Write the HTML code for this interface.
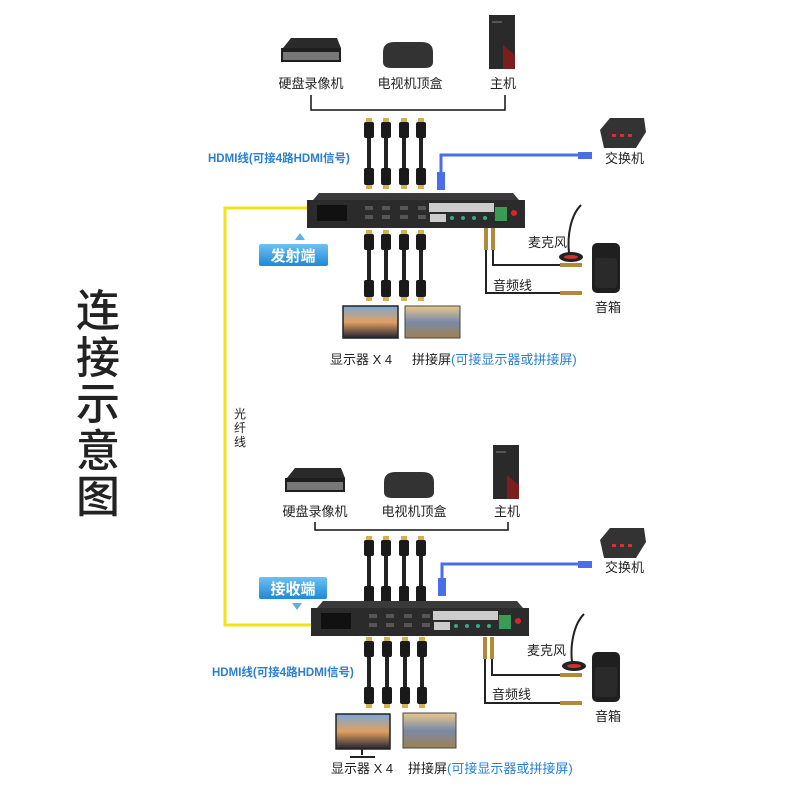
<!DOCTYPE html>
<html><head><meta charset="utf-8"><style>
html,body{margin:0;padding:0;background:#fff}
svg text{font-family:"Liberation Sans","Noto Sans CJK SC",sans-serif}
</style></head><body>
<svg width="800" height="800" viewBox="0 0 800 800" xmlns="http://www.w3.org/2000/svg">
<defs>
<linearGradient id="bl" x1="0" y1="0" x2="0" y2="1"><stop offset="0" stop-color="#6fc0f0"/><stop offset="1" stop-color="#1e88d6"/></linearGradient>
<linearGradient id="scr" x1="0" y1="0" x2="0" y2="1"><stop offset="0" stop-color="#7aa8d8"/><stop offset="0.5" stop-color="#e0a060"/><stop offset="1" stop-color="#223"/></linearGradient>
<linearGradient id="scr2" x1="0" y1="0" x2="0" y2="1"><stop offset="0" stop-color="#e8c88a"/><stop offset="0.5" stop-color="#7a8aa8"/><stop offset="1" stop-color="#a08050"/></linearGradient>
<g id="cab">
<rect x="-3" y="0" width="6" height="4" fill="#d4b050"/>
<rect x="-5" y="4" width="10" height="16" rx="2" fill="#1a1a1a"/>
<rect x="-2" y="20" width="4" height="30" fill="#222"/>
<rect x="-5" y="50" width="10" height="17" rx="2" fill="#1a1a1a"/>
<rect x="-3" y="67" width="6" height="4" fill="#d4b050"/>
</g>
<g id="box">
<path d="M12 0 H206 L212 7 H6 Z" fill="#3a3a3a"/>
<rect x="0" y="7" width="218" height="28" fill="#2b2b2b"/>
<rect x="10" y="12" width="30" height="16" fill="#111"/>
<g fill="#555"><rect x="58" y="13" width="8" height="4"/><rect x="58" y="22" width="8" height="4"/><rect x="75" y="13" width="8" height="4"/><rect x="75" y="22" width="8" height="4"/><rect x="93" y="13" width="8" height="4"/><rect x="93" y="22" width="8" height="4"/><rect x="111" y="13" width="8" height="4"/><rect x="111" y="22" width="8" height="4"/></g>
<rect x="122" y="10" width="33" height="9" fill="#ccc"/><rect x="155" y="10" width="32" height="9" fill="#ccc"/>
<rect x="123" y="21" width="16" height="8" fill="#ccc"/>
<g fill="#3a8"><circle cx="145" cy="25" r="2"/><circle cx="156" cy="25" r="2"/><circle cx="167" cy="25" r="2"/><circle cx="178" cy="25" r="2"/></g>
<rect x="188" y="14" width="12" height="14" fill="#3c9a55"/>
<circle cx="207" cy="20" r="3" fill="#d22"/>
</g>
<g id="nvr"><path d="M2 10 L10 0 H56 L60 10 Z" fill="#2a2a2a"/><rect x="0" y="10" width="60" height="14" fill="#1e1e1e"/><rect x="2" y="14" width="56" height="8" fill="#777"/></g>
<g id="stb"><path d="M2 10 Q2 0 14 0 H40 Q52 0 52 10 V20 Q52 26 44 26 H10 Q2 26 2 20 Z" fill="#333"/></g>
<g id="pc"><rect x="0" y="0" width="26" height="54" fill="#2a2a2a"/><path d="M14 30 L26 40 V54 H14 Z" fill="#7a1e1e"/><rect x="3" y="6" width="10" height="2" fill="#555"/></g>
<g id="sw"><path d="M0 12 L10 0 H44 L46 14 L36 30 H4 Z" fill="#333"/><g fill="#c33"><rect x="12" y="16" width="4" height="3"/><rect x="20" y="16" width="4" height="3"/><rect x="28" y="16" width="4" height="3"/></g></g>
<g id="mic"><path d="M18 0 C8 10 4 30 6 48" stroke="#222" stroke-width="2" fill="none"/><ellipse cx="8" cy="52" rx="12" ry="5" fill="#222"/><ellipse cx="8" cy="52" rx="7" ry="2" fill="#c33"/></g>
<g id="spk"><rect x="0" y="0" width="28" height="50" rx="5" fill="#1f1f1f"/><rect x="3" y="15" width="22" height="30" rx="3" fill="#2a2a2a"/></g>
</defs>

<g font-size="44" fill="#222" text-anchor="middle" font-weight="500">
<text x="98" y="326">连</text><text x="98" y="373">接</text><text x="98" y="419">示</text><text x="98" y="466">意</text><text x="98" y="512">图</text>
</g>

<path d="M307 208 H225 V625 H312" stroke="#f2e21a" stroke-width="3" fill="none"/>
<g font-size="12" fill="#222" text-anchor="middle"><text x="240" y="418">光</text><text x="240" y="432">纤</text><text x="240" y="446">线</text></g>

<!-- TOP -->
<use href="#nvr" x="281" y="38"/>
<use href="#stb" x="381" y="42"/>
<use href="#pc" x="489" y="15"/>
<g font-size="13" fill="#222" text-anchor="middle">
<text x="311" y="88">硬盘录像机</text><text x="410" y="88">电视机顶盒</text><text x="503" y="88">主机</text>
</g>
<path d="M311 95 V110 H505 V95" stroke="#111" stroke-width="1.5" fill="none"/>
<use href="#cab" x="369" y="118"/><use href="#cab" x="386" y="118"/><use href="#cab" x="404" y="118"/><use href="#cab" x="421" y="118"/>
<text x="208" y="162" font-size="11.5" font-weight="bold" fill="#2a7fd0">HDMI线(可接4路HDMI信号)</text>
<path d="M441 175 V155 H583" stroke="#4a6ee8" stroke-width="3" fill="none"/>
<rect x="437" y="172" width="8" height="18" fill="#4a6ee8"/><rect x="578" y="152" width="14" height="7" fill="#4a6ee8"/>
<use href="#sw" x="600" y="118"/>
<text x="605" y="163" font-size="13" fill="#222">交换机</text>
<use href="#box" x="307" y="193"/>
<path d="M300 233 L295 240 H305 Z" fill="#5bb0ea"/>
<rect x="259" y="244" width="69" height="22" rx="2" fill="url(#bl)"/>
<text x="293" y="261" font-size="15" font-weight="bold" fill="#fff" text-anchor="middle">发射端</text>
<use href="#cab" x="369" y="230"/><use href="#cab" x="386" y="230"/><use href="#cab" x="404" y="230"/><use href="#cab" x="421" y="230"/>
<rect x="343" y="306" width="55" height="32" fill="url(#scr)" stroke="#222" stroke-width="1.5"/>
<rect x="405" y="306" width="55" height="32" fill="url(#scr2)" stroke="#444"/>
<text x="330" y="364" font-size="13" fill="#222">显示器 X 4</text>
<text x="412" y="364" font-size="13" fill="#222">拼接屏<tspan fill="#2a7fd0">(可接显示器或拼接屏)</tspan></text>
<path d="M493 228 V265 H575 M486 228 V293 H575" stroke="#222" stroke-width="2" fill="none"/>
<g fill="#b08a3a"><rect x="484" y="228" width="4" height="22"/><rect x="491" y="228" width="4" height="22"/><rect x="560" y="263" width="22" height="4"/><rect x="560" y="291" width="22" height="4"/></g>
<text x="493" y="290" font-size="13" fill="#222">音频线</text>
<use href="#mic" x="563" y="205"/>
<text x="528" y="247" font-size="13" fill="#222">麦克风</text>
<use href="#spk" x="592" y="243"/>
<text x="595" y="312" font-size="13" fill="#222">音箱</text>

<!-- BOTTOM -->
<use href="#nvr" x="285" y="468"/>
<use href="#stb" x="382" y="472"/>
<use href="#pc" x="493" y="445"/>
<g font-size="13" fill="#222" text-anchor="middle">
<text x="315" y="516">硬盘录像机</text><text x="414" y="516">电视机顶盒</text><text x="507" y="516">主机</text>
</g>
<path d="M315 522 V530 H508 V522" stroke="#111" stroke-width="1.5" fill="none"/>
<use href="#cab" x="369" y="536"/><use href="#cab" x="386" y="536"/><use href="#cab" x="404" y="536"/><use href="#cab" x="421" y="536"/>
<path d="M442 585 V564 H583" stroke="#4a6ee8" stroke-width="3" fill="none"/>
<rect x="438" y="578" width="8" height="18" fill="#4a6ee8"/><rect x="578" y="561" width="14" height="7" fill="#4a6ee8"/>
<use href="#sw" x="600" y="528"/>
<text x="605" y="572" font-size="13" fill="#222">交换机</text>
<rect x="259" y="577" width="68" height="22" rx="2" fill="url(#bl)"/>
<text x="293" y="594" font-size="15" font-weight="bold" fill="#fff" text-anchor="middle">接收端</text>
<path d="M292 603 H302 L297 610 Z" fill="#5bb0ea"/>
<use href="#box" x="311" y="601"/>
<use href="#cab" x="369" y="637"/><use href="#cab" x="387" y="637"/><use href="#cab" x="405" y="637"/><use href="#cab" x="422" y="637"/>
<text x="212" y="676" font-size="11.5" font-weight="bold" fill="#2a7fd0">HDMI线(可接4路HDMI信号)</text>
<rect x="336" y="714" width="54" height="35" fill="url(#scr)" stroke="#222" stroke-width="1.5"/>
<path d="M362 749 V755 M350 757 H375" stroke="#222" stroke-width="2"/>
<rect x="403" y="713" width="53" height="35" fill="url(#scr2)" stroke="#444"/>
<text x="331" y="773" font-size="13" fill="#222">显示器 X 4</text>
<text x="408" y="773" font-size="13" fill="#222">拼接屏<tspan fill="#2a7fd0">(可接显示器或拼接屏)</tspan></text>
<path d="M492 637 V675 H575 M485 637 V703 H575" stroke="#222" stroke-width="2" fill="none"/>
<g fill="#b08a3a"><rect x="483" y="637" width="4" height="22"/><rect x="490" y="637" width="4" height="22"/><rect x="560" y="673" width="22" height="4"/><rect x="560" y="701" width="22" height="4"/></g>
<text x="492" y="699" font-size="13" fill="#222">音频线</text>
<use href="#mic" x="566" y="614"/>
<text x="527" y="655" font-size="13" fill="#222">麦克风</text>
<use href="#spk" x="592" y="652"/>
<text x="595" y="721" font-size="13" fill="#222">音箱</text>
</svg>
</body></html>
